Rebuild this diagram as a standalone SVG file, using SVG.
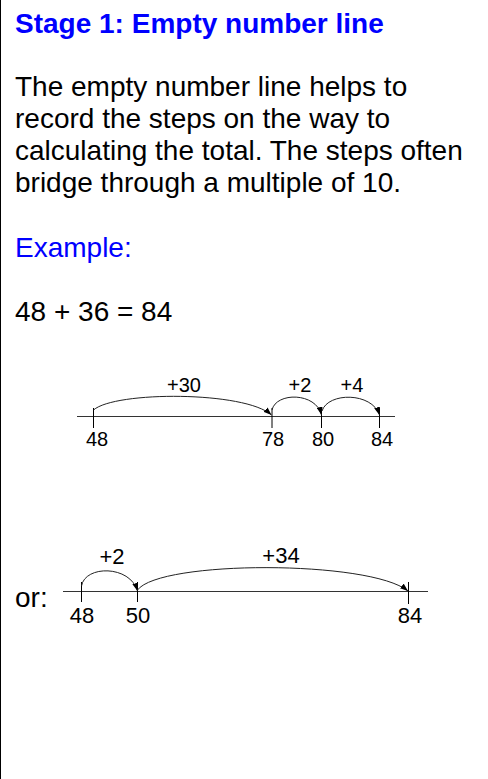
<svg xmlns="http://www.w3.org/2000/svg" width="488" height="779" viewBox="0 0 488 779">
<style>
.t{font-family:"Liberation Sans",Arial,sans-serif;font-size:28px;fill:#000}
.blue{fill:#0000ff}
.b{font-weight:bold}
.n1{font-family:"Liberation Sans",Arial,sans-serif;font-size:20px;fill:#000;text-anchor:middle}
.n2{font-family:"Liberation Sans",Arial,sans-serif;font-size:22px;fill:#000;text-anchor:middle}
.axis{stroke:#333;stroke-width:1;fill:none}
.tick{stroke:#000;stroke-width:1}
.arc{stroke:#222;stroke-width:1;fill:none;marker-end:url(#ah)}
</style>
<defs>
<marker id="ah" viewBox="0 0 8 6" refX="8" refY="3" markerWidth="8" markerHeight="6" markerUnits="userSpaceOnUse" orient="auto">
<path d="M0,0 L8,3 L0,6 z" fill="#000"/>
</marker>
</defs>
<rect width="488" height="779" fill="#fff"/>
<line x1="0.5" y1="0" x2="0.5" y2="779" stroke="#000" stroke-width="1"/>
<g id="text">
<text class="t blue b" x="15" y="33">Stage 1: Empty number line</text>
<text class="t" x="15" y="96">The empty number line helps to</text>
<text class="t" x="15" y="128">record the steps on the way to</text>
<text class="t" x="15" y="160">calculating the total. The steps often</text>
<text class="t" x="15" y="192">bridge through a multiple of 10.</text>
<text class="t blue" x="15" y="257">Example:</text>
<text class="t" x="15" y="321">48 + 36 = 84</text>
<text class="t" x="15" y="607">or:</text>
</g>
<g id="line1">
<line class="axis" x1="77" y1="416.5" x2="395" y2="416.5"/>
<line class="tick" x1="93.5" y1="408" x2="93.5" y2="428"/>
<line class="tick" x1="272" y1="408" x2="272" y2="428"/>
<line class="tick" x1="321.5" y1="408" x2="321.5" y2="428"/>
<line class="tick" x1="379.5" y1="408" x2="379.5" y2="428"/>
<text class="n1" x="97" y="446">48</text>
<text class="n1" x="273" y="446">78</text>
<text class="n1" x="323" y="446">80</text>
<text class="n1" x="382" y="446">84</text>
<text class="n1" x="184" y="392">+30</text>
<text class="n1" x="300" y="392">+2</text>
<text class="n1" x="352" y="392">+4</text>
</g>
<g id="line2">
<line class="axis" x1="63" y1="591.5" x2="428" y2="591.5"/>
<line class="tick" x1="81.5" y1="582" x2="81.5" y2="602"/>
<line class="tick" x1="137.5" y1="582" x2="137.5" y2="602"/>
<line class="tick" x1="408.5" y1="582" x2="408.5" y2="604"/>
<text class="n2" x="82" y="623">48</text>
<text class="n2" x="138" y="623">50</text>
<text class="n2" x="410" y="623">84</text>
<text class="n2" x="112" y="564">+2</text>
<text class="n2" x="281" y="563">+34</text>
</g>
<g id="connectors">
<path class="arc" d="M93.5,410 C115,391 245,391 271.5,415"/>
<path class="arc" d="M272,410 C276,392 316,392 321.5,415"/>
<path class="arc" d="M322,411 C328,392 372,392 379.5,415"/>
<path class="arc" d="M81.5,586 C85,565 130,565 137.5,591"/>
<path class="arc" d="M137.5,590 C160,560 370,560 408,591"/>
</g>
</svg>
